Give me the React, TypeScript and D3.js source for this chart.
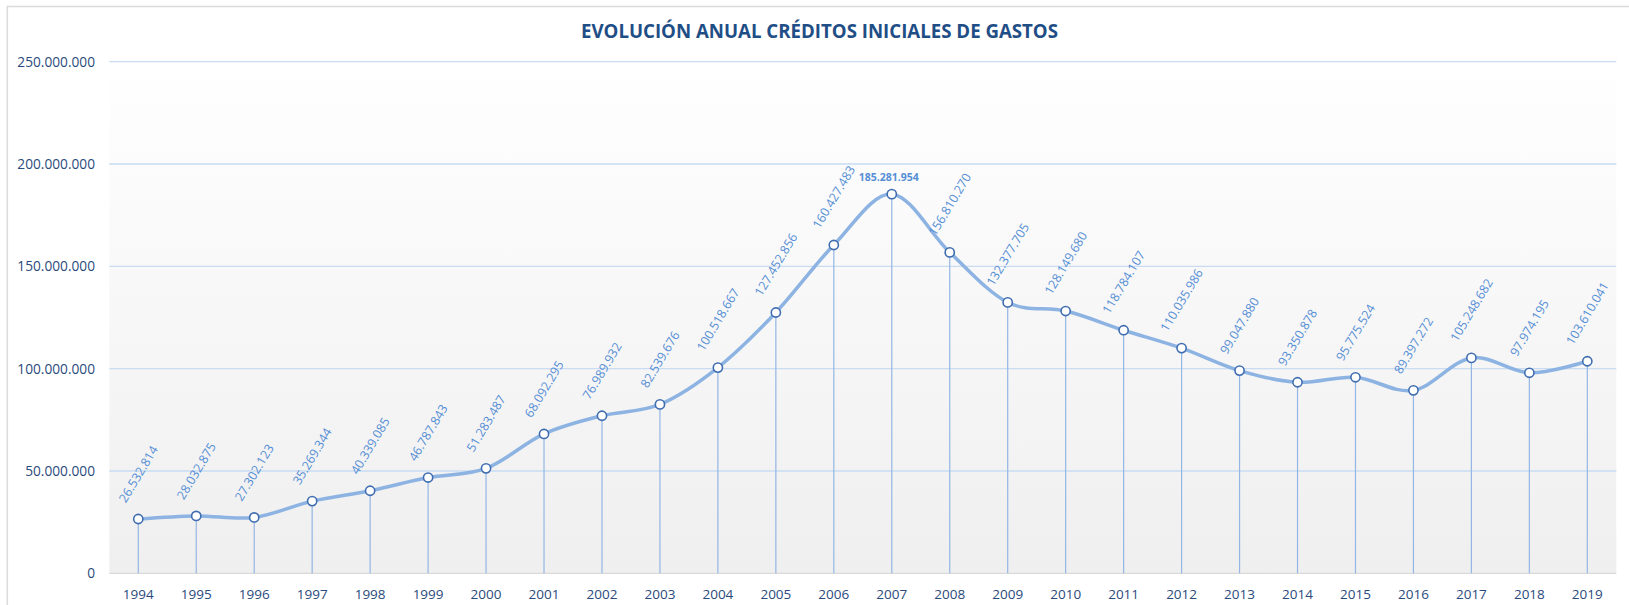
import React from 'react';
import * as d3 from 'd3';

const years = ['1994', '1995', '1996', '1997', '1998', '1999', '2000', '2001', '2002', '2003', '2004', '2005', '2006', '2007', '2008', '2009', '2010', '2011', '2012', '2013', '2014', '2015', '2016', '2017', '2018', '2019'];
const credits = [26532814, 28032875, 27302123, 35269344, 40339085, 46787843, 51283487, 68092295, 76989932, 82539676, 100518667, 127452856, 160427483, 185281954, 156810270, 132377705, 128149680, 118784107, 110035986, 99047880, 93350878, 95775524, 89397272, 105248682, 97974195, 103610041];
const yTicks = [0, 50000000, 100000000, 150000000, 200000000, 250000000];
const title = 'EVOLUCIÓN ANUAL CRÉDITOS INICIALES DE GASTOS';

const W = 1629;
const H = 605;
const plot = { left: 109.3, right: 1616.3, top: 61.7, bottom: 573.3 };

const esLocale = d3.formatLocale({ decimal: ',', thousands: '.', grouping: [3], currency: ['', ' €'] });
const fmt = esLocale.format(',d');

const FONT = '"Open Sans", "Noto Sans", sans-serif';
const ANGLE = 59;

// rough width of a label in Open Sans, digits + dots
const labelWidth = (s: string, size: number) =>
  s.split('').reduce((acc, ch) => acc + (ch === '.' ? 0.266 : 0.572), 0) * size;

export default function App() {
  const x = d3.scalePoint<string>().domain(years).range([plot.left, plot.right]).padding(0.5);
  const y = d3.scaleLinear().domain([0, 250000000]).range([plot.bottom, plot.top]);

  const pts: [number, number][] = credits.map((v, i) => [x(years[i]) as number, y(v)]);
  const line = d3.line().curve(d3.curveCatmullRom.alpha(0))(pts) || '';

  const peak = credits.indexOf(d3.max(credits) as number);
  const rad = (ANGLE * Math.PI) / 180;
  const labelSize = 12.4;
  const capH = 0.714 * labelSize;

  return (
    <svg width={W} height={H} style={{ position: 'absolute', left: 0, top: 0 }} fontFamily={FONT}>
      <defs>
        <linearGradient id="plotBg" x1="0" y1="0" x2="0" y2="1">
          <stop offset="0%" stopColor="#ffffff" />
          <stop offset="100%" stopColor="#efefef" />
        </linearGradient>
      </defs>

      <rect x={0} y={0} width={W} height={H} fill="#ffffff" />
      <rect x={7.3} y={6.5} width={W + 20} height={H + 20} fill="#ffffff" stroke="#dcdcdc" strokeWidth={1.6} />

      {/* plot area */}
      <rect x={plot.left} y={plot.top} width={plot.right - plot.left} height={plot.bottom - plot.top} fill="url(#plotBg)" />

      <text x={819.5} y={38.3} textAnchor="middle" fontSize={20} fontWeight="bold" fill="#1F4E86"
        textLength={477} lengthAdjust="spacingAndGlyphs">
        {title}
      </text>

      {/* gridlines + y labels */}
      {yTicks.map(t => (
        <g key={t}>
          <line x1={plot.left} x2={plot.right} y1={y(t)} y2={y(t)}
            stroke={t === 0 ? '#d9d9d9' : '#c9dcf2'} strokeWidth={1.3} />
          <text x={95} y={y(t)} dy="0.36em" textAnchor="end" fontSize={13.7} fill="#2A4A7C">
            {fmt(t)}
          </text>
        </g>
      ))}

      {/* drop lines */}
      {pts.map(([px, py], i) => (
        <line key={years[i]} x1={px} x2={px} y1={py} y2={plot.bottom} stroke="#93b6e4" strokeWidth={1.2} />
      ))}

      <path d={line} fill="none" stroke="#8DB3E2" strokeWidth={3.5} strokeLinejoin="round" />

      {pts.map(([px, py], i) => (
        <circle key={years[i]} cx={px} cy={py} r={4.6} fill="#ffffff" stroke="#3F6DB0" strokeWidth={1.6} />
      ))}

      {/* data labels */}
      {credits.map((v, i) => {
        const [px, py] = pts[i];
        const s = fmt(v);
        if (i === peak) {
          return (
            <text key={years[i]} x={px - 3} y={py - 13.5} textAnchor="middle" fontSize={10.5}
              fontWeight="bold" fill="#558ED5">
              {s}
            </text>
          );
        }
        const L = labelWidth(s, labelSize);
        const half = (L * Math.sin(rad) + capH * Math.cos(rad)) / 2;
        const cy = py - 15.5 - half;
        return (
          <text key={years[i]} transform={`translate(${px},${cy}) rotate(${-ANGLE})`} textAnchor="middle"
            dy="0.36em" fontSize={labelSize} fill="#558ED5">
            {s}
          </text>
        );
      })}

      {/* x labels */}
      {years.map(yr => (
        <text key={yr} x={x(yr)} y={598.5} textAnchor="middle" fontSize={13.5} fill="#2A4A7C">
          {yr}
        </text>
      ))}
    </svg>
  );
}
